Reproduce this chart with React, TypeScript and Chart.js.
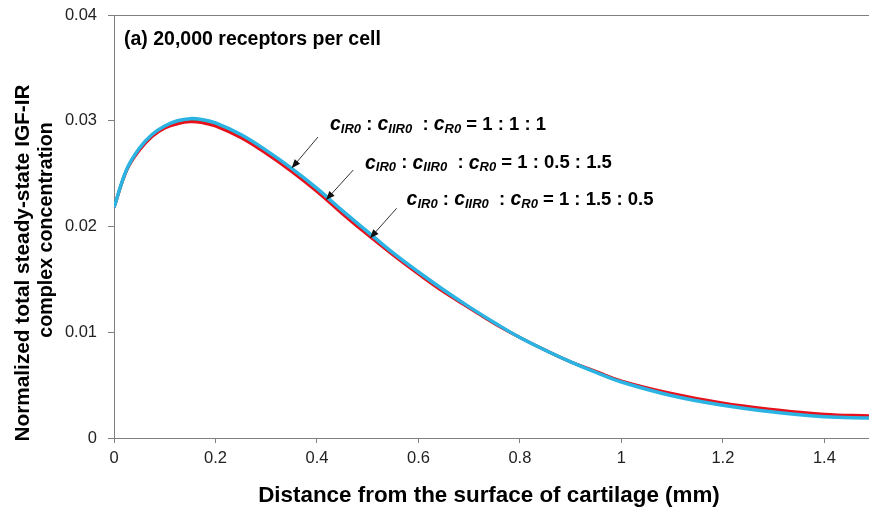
import React, { useEffect, useRef } from "react";
import { Chart, registerables } from "chart.js";

Chart.register(...registerables);

const distance = [0, 0.025, 0.05, 0.075, 0.1, 0.125, 0.15, 0.175, 0.2, 0.25, 0.3, 0.35, 0.4, 0.45, 0.5, 0.55, 0.6, 0.65, 0.7, 0.75, 0.8, 0.85, 0.9, 0.95, 1.0, 1.1, 1.2, 1.3, 1.4, 1.488];

const ratio111 = [0.0218, 0.0254, 0.0274, 0.0287, 0.0295, 0.03, 0.0302, 0.0301, 0.0298, 0.0287, 0.0272, 0.0255, 0.0236, 0.0215, 0.0195, 0.0175, 0.0157, 0.014, 0.0124, 0.0109, 0.0095, 0.0083, 0.0072, 0.0062, 0.0053, 0.004, 0.0031, 0.00245, 0.002, 0.0019];

const ratio1_05_15 = [0.0218, 0.02535, 0.0273, 0.0286, 0.0294, 0.02985, 0.03005, 0.02995, 0.02965, 0.02855, 0.02705, 0.02535, 0.02345, 0.02135, 0.01935, 0.0174, 0.0156, 0.0139, 0.01235, 0.01085, 0.0095, 0.0083, 0.0072, 0.00625, 0.00535, 0.0041, 0.0032, 0.00257, 0.00212, 0.002];

const ratio1_15_05 = [0.0218, 0.0253, 0.0272, 0.0285, 0.0293, 0.0297, 0.0299, 0.0298, 0.0295, 0.0284, 0.0269, 0.0252, 0.0233, 0.0212, 0.0192, 0.0173, 0.0155, 0.0138, 0.0123, 0.0108, 0.0095, 0.0083, 0.0072, 0.0063, 0.0054, 0.0042, 0.0033, 0.0027, 0.00225, 0.0021];

const xTicks = [0, 0.2, 0.4, 0.6, 0.8, 1, 1.2, 1.4];
const yTicks = [0, 0.01, 0.02, 0.03, 0.04];

const panelTitle = "(a) 20,000 receptors per cell";
const xTitle = "Distance from the surface of cartilage (mm)";
const yTitleLines = ["Normalized total steady-state IGF-IR", "complex concentration"];
const ratioLabels = ["1 : 1 : 1", "1 : 0.5 : 1.5", "1 : 1.5 : 0.5"];

// annotation anchors in data units: text start, arrow tail, arrow tip
const labelAnchors = [
  { tx: 0.4256, ty: 0.0296, ax: 0.402, ay: 0.02846, bx: 0.35, by: 0.0255 },
  { tx: 0.4946, ty: 0.02598, ax: 0.4715, ay: 0.02534, bx: 0.4177, by: 0.0225 },
  { tx: 0.5767, ty: 0.0225, ax: 0.557, ay: 0.02172, bx: 0.5044, by: 0.01888 },
];

const FONT = '"Liberation Sans", Arial, Helvetica, sans-serif';

const toPoints = (ys: number[]) => distance.map((d, i) => ({ x: d, y: ys[i] }));

const overlayPlugin = {
  id: "overlay",
  afterDraw(chart: any) {
    const { ctx, scales } = chart;
    const xs = scales.x;
    const ys = scales.y;
    ctx.save();
    ctx.fillStyle = "#000";

    // panel title
    ctx.font = `bold 19.5px ${FONT}`;
    ctx.textAlign = "left";
    ctx.textBaseline = "middle";
    ctx.fillText(panelTitle, 124, 40);

    // x title
    ctx.font = `bold 22.4px ${FONT}`;
    ctx.textAlign = "center";
    ctx.fillText(xTitle, 489, 496);

    // y title
    const yCenters = [263, 230];
    const xPos = [23, 47];
    const sizes = [20.8, 19.7];
    yTitleLines.forEach((line, i) => {
      ctx.save();
      ctx.translate(xPos[i], yCenters[i]);
      ctx.rotate(-Math.PI / 2);
      ctx.textAlign = "center";
      ctx.textBaseline = "middle";
      ctx.font = `bold ${sizes[i]}px ${FONT}`;
      ctx.fillText(line, 0, 0);
      ctx.restore();
    });

    // ratio annotations
    labelAnchors.forEach((a, i) => {
      let px = xs.getPixelForValue(a.tx);
      const py = ys.getPixelForValue(a.ty);
      const parts: { t: string; f: string; dy: number }[] = [
        { t: "c", f: `italic bold 19.5px ${FONT}`, dy: 0 },
        { t: "IR0", f: `italic bold 13px ${FONT}`, dy: 4 },
        { t: " : ", f: `bold 18.5px ${FONT}`, dy: 0 },
        { t: "c", f: `italic bold 19.5px ${FONT}`, dy: 0 },
        { t: "IIR0", f: `italic bold 13px ${FONT}`, dy: 4 },
        { t: "  : ", f: `bold 18.5px ${FONT}`, dy: 0 },
        { t: "c", f: `italic bold 19.5px ${FONT}`, dy: 0 },
        { t: "R0", f: `italic bold 13px ${FONT}`, dy: 4 },
        { t: " = " + ratioLabels[i], f: `bold 18.5px ${FONT}`, dy: 0 },
      ];
      ctx.textAlign = "left";
      ctx.textBaseline = "middle";
      parts.forEach((p) => {
        ctx.font = p.f;
        ctx.fillText(p.t, px, py + p.dy);
        px += ctx.measureText(p.t).width;
      });

      // arrow
      const x1 = xs.getPixelForValue(a.ax);
      const y1 = ys.getPixelForValue(a.ay);
      const x2 = xs.getPixelForValue(a.bx);
      const y2 = ys.getPixelForValue(a.by);
      const ang = Math.atan2(y2 - y1, x2 - x1);
      const hl = 9;
      const hw = 3.5;
      ctx.strokeStyle = "#333";
      ctx.lineWidth = 1;
      ctx.beginPath();
      ctx.moveTo(x1, y1);
      ctx.lineTo(x2 - Math.cos(ang) * hl * 0.8, y2 - Math.sin(ang) * hl * 0.8);
      ctx.stroke();
      ctx.fillStyle = "#111";
      ctx.beginPath();
      ctx.moveTo(x2, y2);
      ctx.lineTo(x2 - Math.cos(ang) * hl - Math.sin(ang) * hw, y2 - Math.sin(ang) * hl + Math.cos(ang) * hw);
      ctx.lineTo(x2 - Math.cos(ang) * hl + Math.sin(ang) * hw, y2 - Math.sin(ang) * hl - Math.cos(ang) * hw);
      ctx.closePath();
      ctx.fill();
      ctx.fillStyle = "#000";
    });
    ctx.restore();
  },
};

export default function App() {
  const canvasRef = useRef<HTMLCanvasElement | null>(null);

  useEffect(() => {
    if (!canvasRef.current) return;
    const common = { pointRadius: 0, tension: 0.4, fill: false };
    const chart = new Chart(canvasRef.current, {
      type: "line",
      data: {
        datasets: [
          { label: "1:1:1", data: toPoints(ratio111), borderColor: "#2BB3E3", borderWidth: 3.5, ...common },
          { label: "1:1.5:0.5", data: toPoints(ratio1_15_05), borderColor: "#E8101A", borderWidth: 3, ...common },
          { label: "1:0.5:1.5", data: toPoints(ratio1_05_15), borderColor: "#1FA54A", borderWidth: 3, ...common },
        ],
      },
      options: {
        animation: false,
        responsive: false,
        maintainAspectRatio: false,
        layout: { padding: { left: 0, right: 0, top: 15, bottom: 0 } },
        plugins: {
          legend: { display: false },
          tooltip: { enabled: false },
          title: { display: false },
        },
        scales: {
          x: {
            type: "linear",
            min: 0,
            max: 1.488,
            afterBuildTicks: (s: any) => {
              s.ticks = xTicks.map((v) => ({ value: v }));
            },
            afterFit: (s: any) => {
              s.height = 513 - 438;
              s.paddingRight = 0;
            },
            ticks: {
              font: { family: FONT, size: 16.5 },
              color: "#222",
              padding: 6,
              maxRotation: 0,
              callback: (v: any) => String(v),
            },
            grid: {
              drawOnChartArea: false,
              drawTicks: true,
              tickLength: 5,
              tickColor: "#808080",
            },
            border: { display: true, color: "#808080", width: 1 },
          },
          y: {
            type: "linear",
            min: 0,
            max: 0.04,
            afterBuildTicks: (s: any) => {
              s.ticks = yTicks.map((v) => ({ value: v }));
            },
            afterFit: (s: any) => {
              s.width = 114;
              s.paddingTop = 0;
              s.paddingBottom = 0;
            },
            ticks: {
              font: { family: FONT, size: 16.5 },
              color: "#222",
              padding: 11,
              callback: (v: any) => String(v),
            },
            grid: {
              drawOnChartArea: true,
              drawTicks: true,
              tickLength: 6,
              tickColor: "#808080",
              color: (c: any) => (c.tick && c.tick.value === 0.04 ? "#808080" : "rgba(0,0,0,0)"),
            },
            border: { display: true, color: "#808080", width: 1 },
          },
        },
      },
      plugins: [overlayPlugin],
    });
    return () => chart.destroy();
  }, []);

  return (
    <div style={{ position: "fixed", left: 0, top: 0, width: 869, height: 513, background: "#fff" }}>
      <canvas ref={canvasRef} width={869} height={513} style={{ width: 869, height: 513 }} />
    </div>
  );
}
